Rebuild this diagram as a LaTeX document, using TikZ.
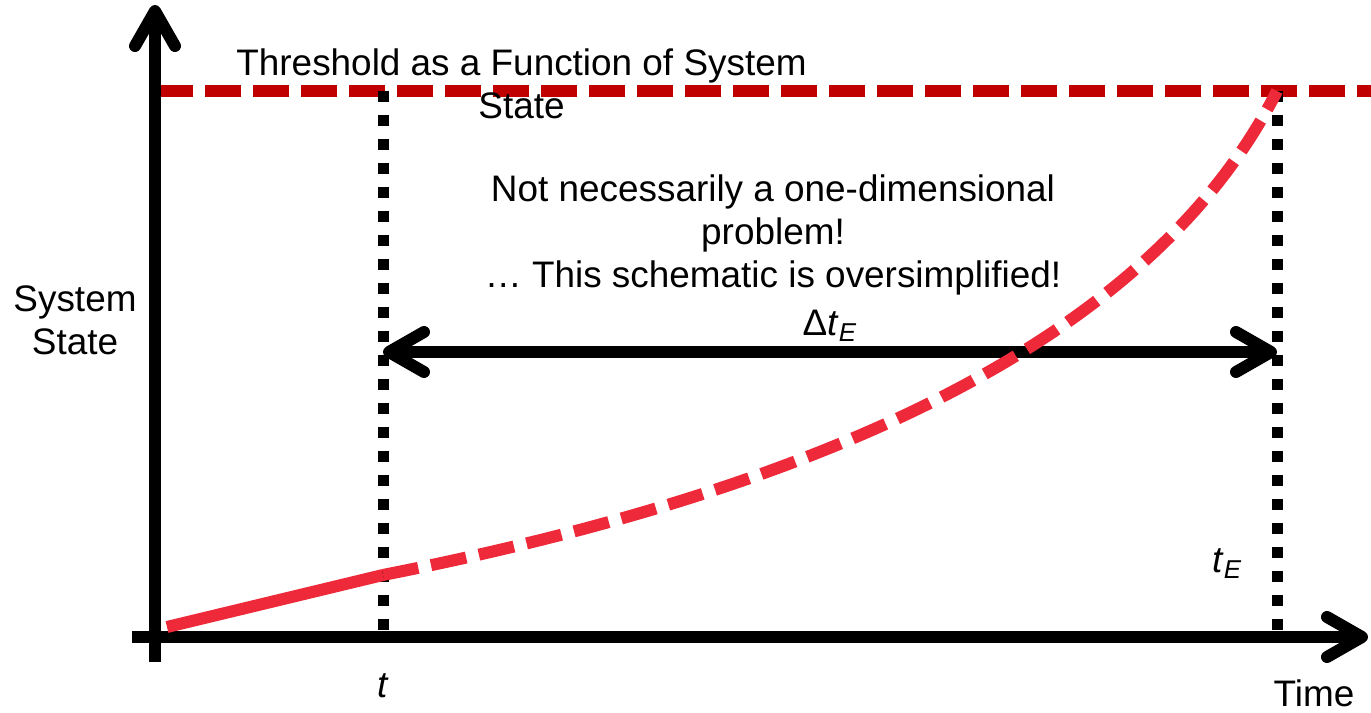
\documentclass[tikz,border=0pt]{standalone}
\usepackage{fontspec}
\setmainfont{Liberation Sans}
\usetikzlibrary{arrows.meta}

\definecolor{thrred}{RGB}{192,0,0}
\definecolor{trajred}{RGB}{238,41,57}

\begin{document}
\begin{tikzpicture}[
    >={Straight Barb[length=0.7cm, width=0.8cm, round]},
    axis/.style={line width=0.24cm, ->},
    thresh/.style={line width=0.24cm, thrred, dash pattern=on 0.72cm off 0.24cm},
    guide/.style={line width=0.22cm, dash pattern=on 0.22cm off 0.26cm},
    traj/.style={line width=0.24cm, trajred},
    lbl/.style={font=\fontsize{21}{24.5}\selectfont, align=center, inner sep=0pt}
]
\useasboundingbox (-3.1,-1.52) rectangle (24.32,12.74);

\coordinate (yBot) at (0,-0.5);
\coordinate (yTip) at (0,12.64);
\coordinate (xBot) at (-0.46,0);
\coordinate (xTip) at (24.26,0);
\coordinate (thrL) at (0.04,10.92);
\coordinate (thrR) at (24.32,10.92);
\coordinate (tTop) at (4.56,10.92);
\coordinate (tBot) at (4.56,0);
\coordinate (tETop) at (22.44,10.92);
\coordinate (tEBot) at (22.44,0);
\coordinate (dtL) at (4.56,5.7);
\coordinate (dtR) at (22.44,5.7);
\coordinate (start) at (0.24,0.2);
\coordinate (knee) at (4.56,1.24);

\draw[thresh] (thrL) -- (thrR);
\draw[guide] (tTop) -- (tBot);
\draw[guide] (tETop) -- (tEBot);
\draw[axis] (yBot) -- (yTip);
\draw[axis] (xBot) -- (xTip);
\draw[line width=0.24cm, <->] (dtL) -- node[lbl, anchor=base, yshift=0.32cm] (dtlabel) {Δ\textit{t}\textsubscript{\textit{E}}} (dtR);

\draw[traj] (start) -- (knee);
\draw[traj, dash pattern=on 0.72cm off 0.26cm] (knee) .. controls (15,3.3) and (20.3,6.7) .. (tETop);

\node[lbl] (thrlabel) at (7.33,11.06) {Threshold as a Function of System\\State};
\node[lbl] (ylabel) at (-1.6,6.34) {System\\State};
\node[lbl] (note) at (12.36,8.04) {Not necessarily a one-dimensional\\problem!\\… This schematic is oversimplified!};
\node[lbl, anchor=base] (tlabel) at (4.56,-1.22) {\textit{t}};
\node[lbl, anchor=base west] (tElabel) at (21.14,1.28) {\textit{t}\textsubscript{\textit{E}}};
\node[lbl, anchor=base] (xlabel) at (23.18,-1.4) {Time};
\end{tikzpicture}
\end{document}
